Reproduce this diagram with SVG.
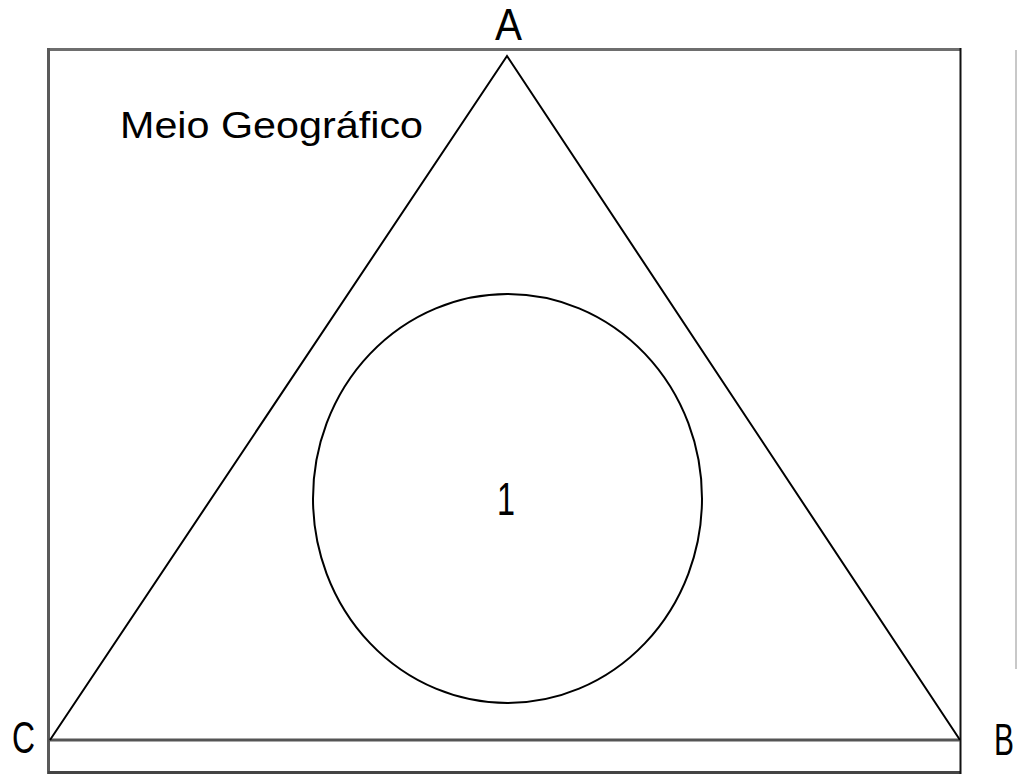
<svg xmlns="http://www.w3.org/2000/svg" width="1019" height="776" viewBox="0 0 1019 776">
<style>
text { font-family: "Liberation Sans", Arial, sans-serif; fill: #000; }
.lbl { font-size: 44px; }
.thin { fill: none; stroke: #000; stroke-width: 2; }
</style>
<rect width="1019" height="776" fill="#fff"/>
<g id="frame">
  <line x1="48.5" y1="49.5" x2="961" y2="49.5" stroke="#6e6e6e" stroke-width="3"/>
  <line x1="48.5" y1="48" x2="48.5" y2="774" stroke="#5a5a5a" stroke-width="3"/>
  <line x1="48" y1="772.5" x2="961" y2="772.5" stroke="#444" stroke-width="3"/>
  <line x1="960.5" y1="48" x2="960.5" y2="774" stroke="#111" stroke-width="2"/>
  <line x1="1016" y1="50" x2="1016" y2="669" stroke="#c8c8c8" stroke-width="2"/>
</g>
<g id="connectors">
  <line x1="48" y1="740" x2="960" y2="740" stroke="#555" stroke-width="3"/>
  <polyline class="thin" points="50,740 507,56 960,740"/>
</g>
<g id="circle1">
  <ellipse class="thin" cx="507.5" cy="498.5" rx="194.5" ry="204.5"/>
  <text x="506" y="515" font-size="46" text-anchor="middle" textLength="18" lengthAdjust="spacingAndGlyphs">1</text>
</g>
<g id="nodeA">
  <text class="lbl" x="495" y="40" textLength="27" lengthAdjust="spacingAndGlyphs">A</text>
</g>
<g id="nodeB">
  <text class="lbl" transform="translate(994,755) scale(0.68,1)">B</text>
</g>
<g id="nodeC">
  <text class="lbl" x="12" y="753" textLength="23" lengthAdjust="spacingAndGlyphs">C</text>
</g>
<g id="label-meio">
  <text x="120" y="138" font-size="37" textLength="303" lengthAdjust="spacingAndGlyphs">Meio Geográfico</text>
</g>
</svg>
